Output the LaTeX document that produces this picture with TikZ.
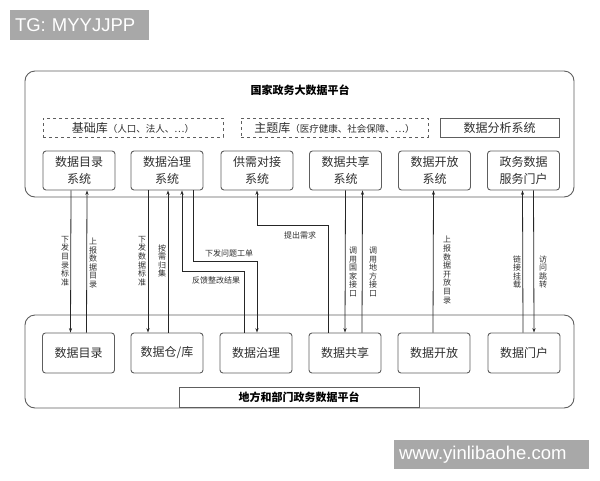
\documentclass[tikz,border=0pt]{standalone}
\usepackage{fontspec}
\setmainfont{Noto Sans CJK SC}
\newfontfamily\wmfont{Liberation Sans}
\usetikzlibrary{arrows.meta}

\definecolor{boxgray}{HTML}{5E5E5E}
\definecolor{wmgray}{HTML}{A8A8A8}
\definecolor{txtgray}{HTML}{2E2E2E}

\begin{document}
\begin{tikzpicture}
  [x=1pt,y=-1pt,every node/.style={text=txtgray,inner sep=0pt},
   platform/.style={draw=boxgray,line width=0.9pt,rounded corners=10pt},
   sysbox/.style={draw=boxgray,line width=0.9pt,rounded corners=3pt,minimum width=72pt,
     minimum height=39pt,align=center,font=\fontsize{12}{17}\selectfont},
   libbox/.style={draw=boxgray,dashed,line width=0.8pt,minimum height=19pt,font=\fontsize{12}{14}\selectfont},
   vlab/.style={align=center,font=\fontsize{8}{8.6}\selectfont},
   hlab/.style={font=\fontsize{8}{10}\selectfont},
   wmbox/.style={fill=wmgray,text=white,align=left,font=\wmfont\fontsize{18.5}{20}\selectfont},
   flow/.style={draw=black!85,line width=0.8pt,-{Stealth[length=4.5pt,width=3.2pt]}}]
  \useasboundingbox (0,0) rectangle (600,480);

  % watermarks
  \node[wmbox,minimum width=139pt,minimum height=30pt,text width=129pt] (tg) at (79.5,25) {TG: MYYJJPP};
  \node[wmbox,minimum width=195pt,minimum height=29pt,text width=185pt] (site) at (491.5,454.5) {www.yinlibaohe.com};

  % national platform
  \node[platform,minimum width=549pt,minimum height=126pt] (nat) at (299.5,134) {};
  \node[font=\fontsize{11}{13}\selectfont\bfseries,text=black] (natname) at (300,90) {国家政务大数据平台};
  \node[libbox,minimum width=180pt] (base) at (133,127.5) {基础库{\fontsize{9.5}{12}\selectfont（人口、法人、⋯）}};
  \node[libbox,minimum width=187pt] (theme) at (334.5,127.5) {主题库{\fontsize{9.5}{12}\selectfont（医疗健康、社会保障、⋯）}};
  \node[libbox,solid,minimum width=119pt] (ana) at (499.5,127.5) {数据分析系统};
  \foreach \n/\x/\t in {1/79/{数据目录\\系统},2/167/{数据治理\\系统},3/257/{供需对接\\系统},
      4/345.5/{数据共享\\系统},5/434.5/{数据开放\\系统},6/523.5/{政务数据\\服务门户}}
    \node[sysbox] (sys\n) at (\x,170.5) {\t};

  % local platform
  \node[platform,minimum width=549pt,minimum height=93pt] (loc) at (299.5,361.5) {};
  \foreach \n/\x/\t in {1/78.5/数据目录,2/167/{数据仓/库},3/256/数据治理,
      4/345/数据共享,5/434/数据开放,6/524/数据门户}
    \node[sysbox,minimum height=40pt] (loc\n) at (\x,353) {\t};
  \node[draw=boxgray,line width=0.8pt,minimum width=240pt,minimum height=20pt,
    font=\fontsize{11}{13}\selectfont\bfseries,text=black] (locname) at (299,397) {地方和部门政务数据平台};

  % flows
  \foreach \a/\b/\dx in {sys1.south/loc1.north/-8,loc1.north/sys1.south/8,
      sys2.south/loc2.north/-19,loc2.north/sys2.south/1,
      sys4.south/loc4.north/0,loc4.north/sys4.south/17,
      loc5.north/sys5.south/-1,loc6.north/sys6.south/-1,sys6.south/loc6.north/10}
    \draw[flow] ([xshift=\dx pt]\a) -- ([xshift=\dx pt]\b);
  \draw[flow] ([xshift=-12pt]loc3.north) -- ++(0,-61) -| ([xshift=15pt]sys2.south);
  \draw[flow] ([xshift=26pt]sys2.south) -- ++(0,71) -| ([xshift=1pt]loc3.north);
  \draw[flow] ([xshift=-17pt]loc4.north) -- ++(0,-107) -| (sys3.south);

  % labels
  \node[vlab] (l1) at (65,261) {下\\发\\目\\录\\标\\准};
  \node[vlab] (l2) at (93,263) {上\\报\\数\\据\\目\\录};
  \node[vlab] (l3) at (142,261) {下\\发\\数\\据\\标\\准};
  \node[vlab] (l4) at (162,261) {按\\需\\归\\集};
  \node[hlab] (l5) at (229,253) {下发问题工单};
  \node[hlab] (l6) at (216,280) {反馈整改结果};
  \node[hlab] (l7) at (300,235) {提出需求};
  \node[vlab] (l8) at (353,272) {调\\用\\国\\家\\接\\口};
  \node[vlab] (l9) at (373,272) {调\\用\\地\\方\\接\\口};
  \node[vlab] (l10) at (447,270) {上\\报\\数\\据\\开\\放\\目\\录};
  \node[vlab] (l11) at (517,272) {链\\接\\挂\\载};
  \node[vlab] (l12) at (543,272) {访\\问\\跳\\转};
\end{tikzpicture}
\end{document}
